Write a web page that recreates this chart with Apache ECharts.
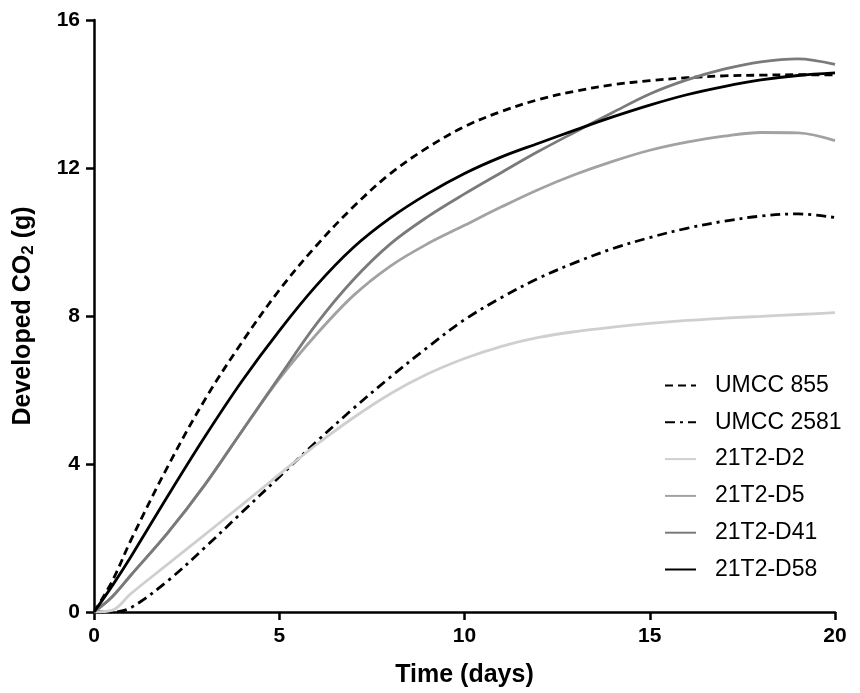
<!DOCTYPE html>
<html>
<head>
<meta charset="utf-8">
<script src="https://cdn.jsdelivr.net/npm/echarts@6/dist/echarts.min.js"></script>
<style>html,body{margin:0;padding:0;background:#fff}#c{width:860px;height:693px}</style>
</head>
<body>
<div id="c"></div>
<script>
const days = [0, 0.5, 1, 2, 3, 4, 5, 6, 7, 8, 9, 10, 11, 12, 13, 14, 15, 16, 17, 18, 19, 20];
const umcc855  = [0, 0.85, 1.95, 3.95, 5.75, 7.3, 8.7, 9.9, 10.95, 11.85, 12.55, 13.12, 13.53, 13.85, 14.08, 14.25, 14.36, 14.44, 14.49, 14.51, 14.52, 14.52];
const umcc2581 = [0, 0, 0.12, 0.85, 1.75, 2.7, 3.65, 4.6, 5.5, 6.35, 7.15, 7.9, 8.5, 9.02, 9.45, 9.82, 10.12, 10.37, 10.56, 10.7, 10.76, 10.66];
const d2  = [0, 0.05, 0.5, 1.3, 2.1, 2.9, 3.72, 4.52, 5.25, 5.9, 6.43, 6.85, 7.18, 7.42, 7.58, 7.7, 7.8, 7.88, 7.94, 7.99, 8.04, 8.09];
const d5  = [0, 0.42, 1.0, 2.15, 3.45, 4.9, 6.3, 7.5, 8.55, 9.35, 9.95, 10.45, 10.95, 11.42, 11.83, 12.18, 12.48, 12.7, 12.86, 12.96, 12.95, 12.74];
const d41 = [0, 0.42, 1.0, 2.15, 3.45, 4.9, 6.35, 7.78, 8.98, 9.95, 10.68, 11.3, 11.88, 12.45, 12.98, 13.5, 14.0, 14.38, 14.67, 14.87, 14.95, 14.8];
const d58 = [0, 0.72, 1.5, 3.15, 4.75, 6.25, 7.6, 8.82, 9.85, 10.65, 11.3, 11.85, 12.3, 12.67, 13.03, 13.38, 13.7, 13.98, 14.2, 14.38, 14.5, 14.57];
const xTicks = [0, 5, 10, 15, 20];
const yTicks = [0, 4, 8, 12, 16];

const seriesDefs = [
  {name: 'UMCC 855', data: umcc855, color: '#000000', type: [8, 5]},
  {name: 'UMCC 2581', data: umcc2581, color: '#000000', type: [10, 5, 3, 5]},
  {name: '21T2-D2', data: d2, color: '#cfcfcf', type: 'solid'},
  {name: '21T2-D5', data: d5, color: '#a2a2a2', type: 'solid'},
  {name: '21T2-D41', data: d41, color: '#7a7a7a', type: 'solid'},
  {name: '21T2-D58', data: d58, color: '#000000', type: 'solid'}
];

const chart = echarts.init(document.getElementById('c'));
const font = 'Liberation Sans, Arial, Helvetica, sans-serif';
chart.setOption({
  animation: false,
  backgroundColor: '#ffffff',
  grid: {left: 94, right: 25, top: 20, bottom: 80, containLabel: false},
  legend: {
    orient: 'vertical',
    left: 659,
    top: 369,
    itemWidth: 31,
    itemHeight: 14,
    itemGap: 13.8,
    data: seriesDefs.map(s => s.name),
    itemStyle: {opacity: 0},
    textStyle: {fontFamily: font, fontSize: 23, lineHeight: 23, color: '#000', padding: [0, 0, 0, 14]}
  },
  xAxis: {
    type: 'value', min: 0, max: 20, interval: 5,
    name: 'Time (days)', nameLocation: 'middle', nameGap: 51,
    nameTextStyle: {fontFamily: font, fontSize: 25, fontWeight: 'bold', color: '#000'},
    axisLine: {show: true, onZero: false, lineStyle: {color: '#000', width: 2.5}},
    axisTick: {show: true, length: 8, lineStyle: {color: '#000', width: 2.5}},
    axisLabel: {fontFamily: font, fontSize: 21, fontWeight: 'bold', color: '#000', margin: 14,
      formatter: v => xTicks.includes(v) ? String(v) : ''},
    splitLine: {show: false}
  },
  yAxis: {
    type: 'value', min: 0, max: 16, interval: 4,
    name: '{a|Developed CO}{s|2}{a| (g)}', nameLocation: 'middle', nameGap: 57,
    nameTextStyle: {
      rich: {
        a: {fontFamily: font, fontSize: 25, fontWeight: 'bold', color: '#000'},
        s: {fontFamily: font, fontSize: 17, fontWeight: 'bold', color: '#000', verticalAlign: 'bottom', padding: [10, 0, 0, 0]}
      }
    },
    axisLine: {show: true, onZero: false, lineStyle: {color: '#000', width: 2.5}},
    axisTick: {show: true, length: 8, lineStyle: {color: '#000', width: 2.5}},
    axisLabel: {fontFamily: font, fontSize: 21, fontWeight: 'bold', color: '#000', margin: 14,
      formatter: v => yTicks.includes(v) ? String(v) : ''},
    splitLine: {show: false}
  },
  series: seriesDefs.map(s => ({
    name: s.name,
    type: 'line',
    smooth: 0.35,
    symbol: 'none',
    data: days.map((d, i) => [d, s.data[i]]),
    color: s.color,
    lineStyle: {color: s.color, width: 2.8, type: s.type}
  }))
});
</script>
</body>
</html>
